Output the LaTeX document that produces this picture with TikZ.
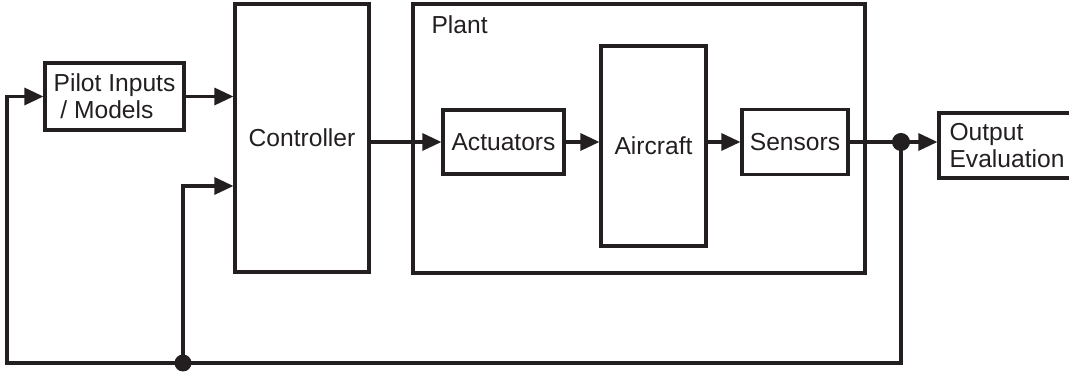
\documentclass[tikz,border=0pt]{standalone}
\usepackage{fontspec}
\setmainfont{Liberation Sans}
\usepackage{tikz}
\usetikzlibrary{arrows.meta,calc,positioning}
\definecolor{inkBlack}{HTML}{231F20}

\begin{document}
\begin{tikzpicture}[inkBlack, line width=1.8pt, >={Triangle[length=0.38cm,width=0.34cm]},
  every node/.style={font=\fontsize{14}{15.5}\selectfont},
  blok/.style={draw=inkBlack,line width=1.8pt,inner sep=0pt,align=center}]
\useasboundingbox (0,0) rectangle (21.38,7.46);
\node[blok,minimum width=2.78cm,minimum height=1.34cm,align=left] (pilot) at (2.29,5.53) {Pilot Inputs\\\hspace*{0.278em}/ Models};
\node[blok,minimum width=2.68cm,minimum height=5.36cm] (ctrl) at (6.04,4.70) {Controller};
\node[blok,minimum width=9.04cm,minimum height=5.38cm] (plant) at (12.78,4.69) {};
\node[anchor=west,inner sep=0pt] (plantLbl) at (8.60,6.96) {Plant};
\node[blok,minimum width=2.42cm,minimum height=1.28cm] (act) at (10.07,4.62) {Actuators};
\node[blok,minimum width=2.10cm,minimum height=4.00cm] (air) at (13.07,4.54) {Aircraft};
\node[blok,minimum width=2.12cm,minimum height=1.30cm] (sen) at (15.90,4.62) {Sensors};
\node[blok,minimum width=2.72cm,minimum height=1.30cm,align=left] (out) at (20.14,4.55) {Output\\Evaluation};
\coordinate (tap) at (18.02,4.62);
\coordinate (split) at (3.66,0.20);
\coordinate (cornerL) at (0.14,0.20);
\draw[->] (pilot) -- (pilot -| ctrl.west);
\draw[->] (ctrl.east |- act) -- (act);
\draw[->] (act) -- (act -| air.west);
\draw[->] (air.east |- sen) -- (sen);
\draw (sen.east) -- (tap);
\draw[->] (tap) -- (tap -| out.west);
% feedback
\draw[->] (tap) |- (cornerL) |- (pilot.west);
\draw[->] (split) |- ([yshift=-0.96cm]ctrl.west);
\fill (tap) circle (0.18);
\fill (split) circle (0.17);
\end{tikzpicture}
\end{document}
